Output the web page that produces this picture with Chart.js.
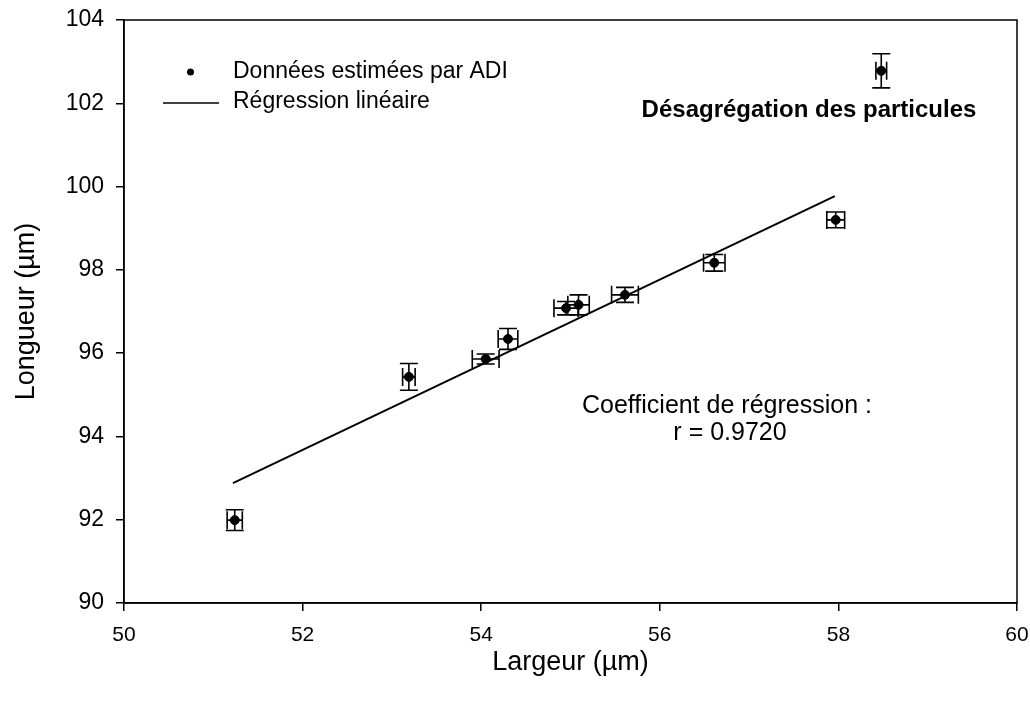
<!DOCTYPE html>
<html>
<head>
<meta charset="utf-8">
<script src="https://cdn.jsdelivr.net/npm/chart.js@4"></script>
<style>
  html, body { margin: 0; padding: 0; background: #fff; }
  #wrap { width: 1030px; height: 702px; }
</style>
</head>
<body>
<div id="wrap"><canvas id="chart"></canvas></div>
<script>
// data
const largeur = [51.24, 53.19, 54.05, 54.30, 54.95, 55.09, 55.61, 56.61, 57.97, 58.48];
const longueur = [91.99, 95.43, 95.86, 96.34, 97.08, 97.16, 97.40, 98.17, 99.20, 102.78];
const errLargeur = [0.085, 0.07, 0.15, 0.11, 0.135, 0.12, 0.15, 0.12, 0.10, 0.06];
const errLongueur = [0.25, 0.32, 0.12, 0.25, 0.16, 0.24, 0.18, 0.20, 0.19, 0.41];
const regX = [51.22, 57.96];
const regY = [92.88, 99.77];
const xTicks = [50, 52, 54, 56, 58, 60];
const yTicks = [90, 92, 94, 96, 98, 100, 102, 104];

const FONT = '"Liberation Sans", Arial, sans-serif';

// draws the x/y error bars of the first dataset
const errorBars = {
  id: 'errorBars',
  afterDatasetsDraw(chart) {
    const { ctx, scales: { x, y } } = chart;
    const cap = 9;
    ctx.save();
    ctx.strokeStyle = '#000';
    ctx.lineWidth = 1.6;
    largeur.forEach((v, i) => {
      const px = x.getPixelForValue(v);
      const py = y.getPixelForValue(longueur[i]);
      const y1 = y.getPixelForValue(longueur[i] + errLongueur[i]);
      const y2 = y.getPixelForValue(longueur[i] - errLongueur[i]);
      const x1 = x.getPixelForValue(v - errLargeur[i]);
      const x2 = x.getPixelForValue(v + errLargeur[i]);
      ctx.beginPath();
      ctx.moveTo(px, y1); ctx.lineTo(px, y2);
      ctx.moveTo(px - cap, y1); ctx.lineTo(px + cap, y1);
      ctx.moveTo(px - cap, y2); ctx.lineTo(px + cap, y2);
      ctx.moveTo(x1, py); ctx.lineTo(x2, py);
      ctx.moveTo(x1, py - cap); ctx.lineTo(x1, py + cap);
      ctx.moveTo(x2, py - cap); ctx.lineTo(x2, py + cap);
      ctx.stroke();
    });
    ctx.restore();
  }
};

// legend, annotations and the frame
const extras = {
  id: 'extras',
  afterDraw(chart) {
    const { ctx, chartArea: a } = chart;
    ctx.save();
    ctx.strokeStyle = '#000';
    ctx.lineWidth = 1.5;
    ctx.strokeRect(a.left, a.top, a.right - a.left, a.bottom - a.top);

    ctx.fillStyle = '#000';
    ctx.beginPath();
    ctx.arc(190.5, 72, 3.5, 0, Math.PI * 2);
    ctx.fill();
    ctx.beginPath();
    ctx.moveTo(163, 103); ctx.lineTo(219, 103);
    ctx.stroke();

    ctx.textBaseline = 'middle';
    ctx.textAlign = 'left';
    ctx.font = '23px ' + FONT;
    ctx.fillText('Données estimées par ADI', 233, 72);
    ctx.fillText('Régression linéaire', 233, 102);

    ctx.textAlign = 'center';
    ctx.font = 'bold 24px ' + FONT;
    ctx.fillText('Désagrégation des particules', 809, 110);

    ctx.font = '25px ' + FONT;
    ctx.fillText('Coefficient de régression :', 727, 406);
    ctx.fillText('r = 0.9720', 730, 433);
    ctx.restore();
  }
};

new Chart(document.getElementById('chart'), {
  type: 'scatter',
  data: {
    datasets: [
      {
        label: 'Données estimées par ADI',
        data: largeur.map((v, i) => ({ x: v, y: longueur[i] })),
        backgroundColor: '#000',
        borderColor: '#000',
        pointRadius: 4.5,
        showLine: false
      },
      {
        label: 'Régression linéaire',
        data: regX.map((v, i) => ({ x: v, y: regY[i] })),
        borderColor: '#000',
        borderWidth: 2,
        pointRadius: 0,
        showLine: true
      }
    ]
  },
  options: {
    responsive: true,
    maintainAspectRatio: false,
    animation: false,
    layout: { padding: { left: 0, top: 20, right: 13, bottom: 0 } },
    plugins: { legend: { display: false }, tooltip: { enabled: false } },
    scales: {
      x: {
        type: 'linear',
        min: 50, max: 60,
        afterBuildTicks: s => { s.ticks = xTicks.map(v => ({ value: v })); },
        afterFit: s => { s.height = 99; s.paddingLeft = 0; s.paddingRight = 0; },
        grid: { drawOnChartArea: false, tickLength: 8, color: '#000', lineWidth: 1.5 },
        border: { color: '#000', width: 1.5 },
        ticks: { color: '#000', font: { family: FONT, size: 21 }, padding: 12, maxRotation: 0 },
        title: { display: true, text: 'Largeur (µm)', color: '#000', font: { family: FONT, size: 27 }, padding: { bottom: 23 } }
      },
      y: {
        type: 'linear',
        min: 90, max: 104,
        afterBuildTicks: s => { s.ticks = yTicks.map(v => ({ value: v })); },
        afterFit: s => { s.width = 124; s.paddingTop = 0; s.paddingBottom = 0; },
        grid: { drawOnChartArea: false, tickLength: 8, color: '#000', lineWidth: 1.5 },
        border: { color: '#000', width: 1.5 },
        ticks: { color: '#000', font: { family: FONT, size: 23 }, padding: 12 },
        title: { display: true, text: 'Longueur (µm)', color: '#000', font: { family: FONT, size: 27 }, padding: { top: 10 } }
      }
    }
  },
  plugins: [errorBars, extras]
});
</script>
</body>
</html>
